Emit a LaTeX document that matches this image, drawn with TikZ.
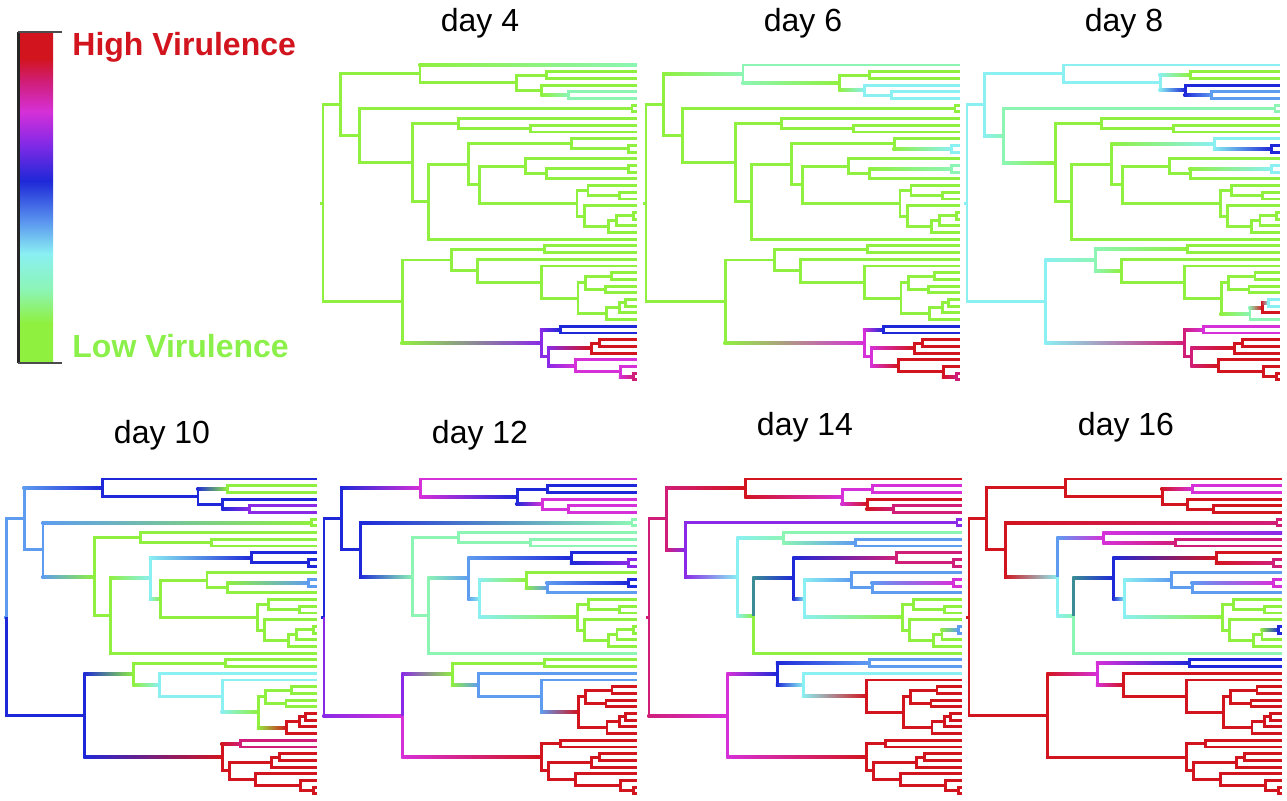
\documentclass[tikz,border=0pt]{standalone}
\usepackage{fontspec}
\setsansfont{Liberation Sans}
\usetikzlibrary{calc}
\definecolor{vG}{HTML}{8FF03F}
\definecolor{vM}{HTML}{8CF5B4}
\definecolor{vC}{HTML}{8AF0F2}
\definecolor{vS}{HTML}{5E9CF0}
\definecolor{vB}{HTML}{1E28D8}
\definecolor{vP}{HTML}{8A2AE6}
\definecolor{vK}{HTML}{D630D8}
\definecolor{vN}{HTML}{D01E78}
\definecolor{vR}{HTML}{D2141E}
\definecolor{vT}{HTML}{3A8C95}
\definecolor{lowtxt}{HTML}{8CF04A}

\pgfdeclareverticalshading{virbar}{100bp}{color(0bp)=(vG); color(31bp)=(vG);
  color(36bp)=(vM); color(41.5bp)=(vC); color(46bp)=(vS); color(52.5bp)=(vB);
  color(58.5bp)=(vP); color(63bp)=(vK); color(67.5bp)=(vN); color(71bp)=(vR);
  color(100bp)=(vR)}

\tikzset{
  branch/.style={line width=1.45pt},
  daytitle/.style={font=\sffamily\fontsize{16}{18}\selectfont, anchor=base},
  virlabel/.style={font=\sffamily\bfseries\fontsize{16}{18}\selectfont, anchor=base west, inner sep=0pt},
}

% node/parent/x/y  (x: 0 root .. 1 tips, y: tip index)
\newcommand\treenodes{U/R/0.056/5.93, U1/U/0.309/1.3125, t0/U1/1/0,
  a/U1/0.617/2.625, b/a/0.713/1.5, t1/b/1/1, t2/b/1/2,
  c/a/0.697/3.75, t3/c/1/3, d/c/0.782/4.5, t4/d/1/4, t5/d/1/5,
  U2/U/0.117/10.54, e/U2/0.984/6.5, t6/e/1/6, t7/e/1/7,
  f/U2/0.284/14.58, g/f/0.431/8.75, t8/g/1/8, i/g/0.660/9.5, t9/i/1/9, t10/i/1/10,
  h/f/0.335/20.41, j/h/0.463/14.82, k/j/0.790/11.75, t11/k/1/11,
  m/k/0.973/12.5, t12/m/1/12, t13/m/1/13,
  l/j/0.497/17.89, n/l/0.646/15.125, t14/n/1/14, p/n/0.713/16.25,
  q/p/0.973/15.5, t15/q/1/15, t16/q/1/16, t17/p/1/17,
  o/l/0.809/20.66, r/o/0.844/18.75, t18/r/1/18, u/r/0.944/19.5, t19/u/1/19, t20/u/1/20,
  s/o/0.833/22.56, t21/s/1/21, v/s/0.910/24.125, w/v/0.936/23.25,
  xc/w/0.989/22.5, t22/xc/1/22, t23/xc/1/23, t24/w/1/24, t25/v/1/25, t26/h/1/26,
  L/R/0.252/35.32, L1/L/0.410/29.10, yc/L1/0.705/27.5, t27/yc/1/27, t28/yc/1/28,
  z/L1/0.493/30.70, t29/z/1/29, aa/z/0.695/32.41, t30/aa/1/30,
  bb/aa/0.812/34.81, cc/bb/0.835/32.5, ee/cc/0.920/31.5, t31/ee/1/31, t32/ee/1/32,
  ff/cc/0.901/33.5, t33/ff/1/33, t34/ff/1/34,
  dd/bb/0.904/37.125, gg/dd/0.944/36.25, hh/gg/0.963/35.5, t35/hh/1/35, t36/hh/1/36,
  t37/gg/1/37, t38/dd/1/38,
  L2/L/0.695/41.53, ii/L2/0.755/39.5, t39/ii/1/39, t40/ii/1/40,
  jj/L2/0.718/43.56, kk/jj/0.854/42.25, mm/kk/0.880/41.5, t41/mm/1/41, t42/mm/1/42,
  t43/kk/1/43, ll/jj/0.803/44.875, t44/ll/1/44, nn/ll/0.947/45.75, t45/nn/1/45,
  oo/nn/0.989/46.5, t46/oo/1/46, t47/oo/1/47}

% node colours per panel (others inherit from parent)
\newcommand\paint[2]{\foreach \n/\cl in {#2}{\expandafter\xdef\csname nc@#1@\n\endcsname{\cl}}}
\newcommand\paintstart[2]{\foreach \n/\cl in {#2}{\expandafter\xdef\csname sc@#1@\n\endcsname{\cl}}}

\paint{A}{R/vG, t0/vM, d/vM, L2/vP, ii/vB, jj/vP, kk/vR, ll/vK, oo/vN}
\paint{B}{R/vG, U1/vM, a/vG, c/vC, m/vC, q/vM, L2/vK, ii/vB, jj/vK, kk/vR, ll/vR, oo/vN}
\paint{C}{R/vC, b/vG, c/vB, d/vS, U2/vM, f/vG, k/vC, m/vB, q/vC, L1/vM, yc/vG, z/vG,
  dd/vM, gg/vR, hh/vC, L2/vN, ii/vK, kk/vR, ll/vR}
\paint{D}{R/vS, U1/vB, b/vG, d/vP, e/vG, f/vG, j/vC, k/vB, l/vG, q/vS, L/vB, L1/vG,
  z/vC, bb/vG, dd/vR, L2/vR, ii/vN}
\paintstart{D}{L/vB}
\paint{E}{R/vB, U1/vK, a/vB, c/vK, e/vM, f/vM, j/vS, k/vB, m/vP, l/vC, n/vG, p/vS,
  q/vB, o/vG, L/vK, L1/vG, z/vS, bb/vR, L2/vR}
\paintstart{E}{L/vP, L1/vP}
\paint{F}{R/vN, U/vN, U1/vR, a/vK, c/vR, d/vN, U2/vP, f/vC, g/vM, i/vS, h/vG, j/vB,
  k/vN, l/vC, n/vS, q/vK, o/vG, xc/vS, L/vK, L1/vB, yc/vS, z/vC, aa/vR, L2/vR}
\paintstart{F}{j/vT}
\paint{G}{R/vR, b/vK, U2/vR, e/vN, f/vC, g/vK, t8/vP, i/vN, h/vM, j/vB, k/vR, m/vN,
  l/vC, n/vS, q/vK, o/vG, xc/vB, L1/vK, yc/vB, z/vR}
\paintstart{G}{g/vS, j/vT}

\newcommand\drawtree[3]{%
  \begin{scope}[shift={#2}, x=#3, y=-3.35pt]
    \coordinate (R) at (0,20.62);
    \edef\brend{\csname nc@#1@R\endcsname}%
    \draw[branch, draw=\brend] (R) -- ++(-1.5pt,0);
    \foreach \n/\p/\x/\y in \treenodes {
      \coordinate (\n) at (\x,\y);
      \ifcsname nc@#1@\n\endcsname\else
        \expandafter\xdef\csname nc@#1@\n\endcsname{\csname nc@#1@\p\endcsname}%
      \fi
      \edef\brend{\csname nc@#1@\n\endcsname}%
      \ifcsname sc@#1@\n\endcsname
        \edef\brstart{\csname sc@#1@\n\endcsname}%
      \else
        \edef\brstart{\csname nc@#1@\p\endcsname}%
      \fi
      \ifx\brstart\brend
        \draw[branch, draw=\brend] (\p) |- (\n);
      \else
        \draw[branch, draw=\brstart] (\p) -- (\p |- \n);
        \shade[left color=\brstart, right color=\brend]
          ($(\p |- \n)+(-0.725pt,-0.725pt)$) rectangle ($(\n)+(0,0.725pt)$);
      \fi
    }
  \end{scope}}

\begin{document}
\begin{tikzpicture}[x=0.5pt, y=-0.5pt]
  \useasboundingbox (0,0) rectangle (1287,800);
  % colour scale
  \shade[shading=virbar] (19,32) rectangle (53,363);
  \draw[line width=1.1pt, black!85] (18.5,32) -- (18.5,363);
  \draw[line width=0.6pt, black!70] (18,32) -- (62,32);
  \draw[line width=0.6pt, black!70] (18,363) -- (62,363);
  \node[virlabel, text=vR] (high) at (72,55) {High Virulence};
  \node[virlabel, text=lowtxt] (low) at (72,357) {Low Virulence};
  % trees
  \drawtree{A}{(323,65)}{157pt}
  \drawtree{B}{(646,65)}{157pt}
  \drawtree{C}{(967,65)}{156.5pt}
  \drawtree{D}{(6.7,479)}{155pt}
  \drawtree{E}{(324,479)}{156.5pt}
  \drawtree{F}{(649,479)}{156.5pt}
  \drawtree{G}{(969,479)}{156.5pt}
  % titles
  \node[daytitle] (d4) at (480,31) {day 4};
  \node[daytitle] (d6) at (803,31) {day 6};
  \node[daytitle] (d8) at (1124,31) {day 8};
  \node[daytitle] (d10) at (162,443) {day 10};
  \node[daytitle] (d12) at (480,443) {day 12};
  \node[daytitle] (d14) at (805,435) {day 14};
  \node[daytitle] (d16) at (1126,435) {day 16};
\end{tikzpicture}
\end{document}
